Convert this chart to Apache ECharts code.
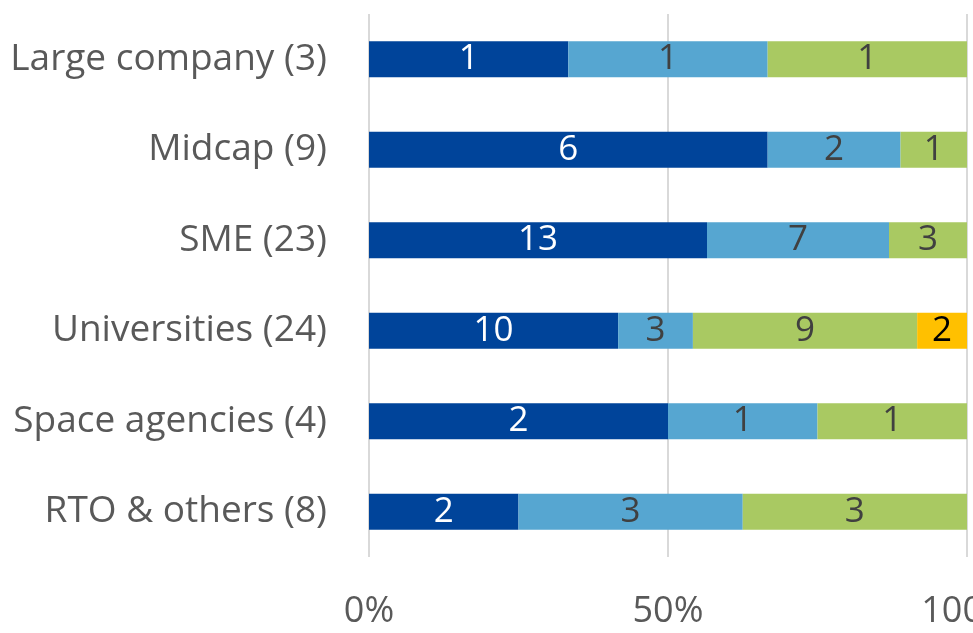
<!DOCTYPE html>
<html>
<head>
<meta charset="utf-8">
<script src="https://cdn.jsdelivr.net/npm/echarts@6/dist/echarts.min.js"></script>
<style>
  html, body { margin: 0; padding: 0; background: #fff; }
  #chart { width: 973px; height: 633px; }
</style>
</head>
<body>
<div id="chart"></div>
<script>
const categories = ['Large company (3)', 'Midcap (9)', 'SME (23)', 'Universities (24)', 'Space agencies (4)', 'RTO & others (8)']
const seriesA = [1, 6, 13, 10, 2, 2]
const seriesB = [1, 2, 7, 3, 1, 3]
const seriesC = [1, 1, 3, 9, 1, 3]
const seriesD = [0, 0, 0, 2, 0, 0]
const xTicks = [0, 50, 100]

const raw = [seriesA, seriesB, seriesC, seriesD]
const colors = ['#00449a', '#56a6d1', '#a9c962', '#ffc000']
const labelColors = ['#ffffff', '#404040', '#404040', '#000000']
const totals = categories.map((_, i) => raw.reduce((s, r) => s + r[i], 0))

const font = 'Open Sans'
const chart = echarts.init(document.getElementById('chart'))

chart.setOption({
  animation: false,
  grid: { left: 369, right: 6, top: 14, bottom: 76, containLabel: false, outerBoundsMode: 'none' },
  xAxis: {
    type: 'value',
    min: 0,
    max: 100,
    interval: 50,
    axisLine: { show: false },
    axisTick: { show: false },
    splitLine: { lineStyle: { color: '#d9d9d9', width: 2 } },
    axisLabel: {
      color: '#595959',
      fontFamily: font,
      fontSize: 36,
      margin: 37,
      formatter: (v) => (xTicks.includes(v) ? v + '%' : '')
    }
  },
  yAxis: {
    type: 'category',
    inverse: true,
    data: categories,
    axisLine: { show: false },
    axisTick: { show: false },
    axisLabel: { color: '#595959', fontFamily: font, fontSize: 37, margin: 42 }
  },
  series: raw.map((r, k) => ({
    type: 'bar',
    stack: 'total',
    barWidth: 36,
    itemStyle: { color: colors[k] },
    label: {
      show: true,
      position: 'inside',
      color: labelColors[k],
      fontFamily: font,
      fontSize: 35,
      formatter: (p) => (r[p.dataIndex] ? String(r[p.dataIndex]) : '')
    },
    data: r.map((v, i) => (v / totals[i]) * 100)
  }))
})
</script>
</body>
</html>
